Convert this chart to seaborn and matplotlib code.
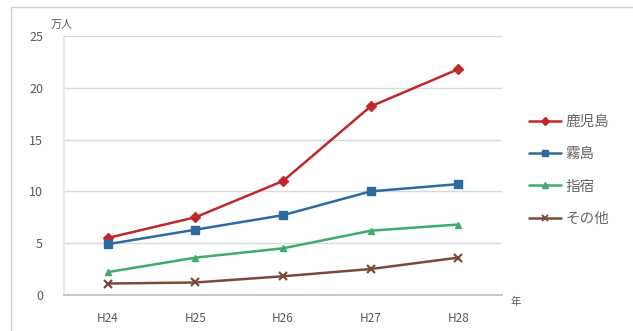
import matplotlib
matplotlib.use("Agg")
import matplotlib.pyplot as plt
import seaborn as sns
import pandas as pd
from matplotlib.lines import Line2D

years = ["H24", "H25", "H26", "H27", "H28"]
series_names = ["鹿児島", "霧島", "指宿", "その他"]
kagoshima = [5.5, 7.5, 11.0, 18.2, 21.8]
kirishima = [4.9, 6.3, 7.7, 10.0, 10.7]
ibusuki = [2.2, 3.6, 4.5, 6.2, 6.8]
sonota = [1.1, 1.2, 1.8, 2.5, 3.6]
y_ticks = [0, 5, 10, 15, 20, 25]

values = [kagoshima, kirishima, ibusuki, sonota]
rows = []
for name, vals in zip(series_names, values):
    for yr, v in zip(years, vals):
        rows.append({"年": yr, "値": v, "系列": name})
df = pd.DataFrame(rows)

sns.set_theme(style="white")
plt.rcParams['font.family'] = ['Noto Sans CJK JP', 'DejaVu Sans']

colors = {"鹿児島": "#c0272d", "霧島": "#2c6aa0", "指宿": "#3cab6c", "その他": "#7a4b3a"}
markers = {"鹿児島": "D", "霧島": "s", "指宿": "^", "その他": "x"}
msizes = {"鹿児島": 5, "霧島": 6, "指宿": 5, "その他": 6}

fig = plt.figure(figsize=(6.33, 3.31), dpi=100)
fig.patch.set_facecolor("white")
ax = fig.add_axes([0.101, 0.109, 0.692, 0.782])

for n in series_names:
    sub = df[df["系列"] == n]
    sns.lineplot(data=sub, x="年", y="値", color=colors[n], marker=markers[n],
                 markersize=msizes[n], markeredgecolor=colors[n],
                 markerfacecolor=colors[n],
                 markeredgewidth=1.6 if markers[n] == "x" else 1.0,
                 linewidth=1.8, ax=ax, legend=False)

ax.set_xlim(-0.5, 4.5)
ax.set_ylim(0, 25)
ax.set_yticks(y_ticks)
ax.set_xticks(range(len(years)))
ax.set_xticklabels(years)
ax.yaxis.grid(True, color="#d9d9d9", linewidth=1.0)
ax.set_axisbelow(True)
for s in ["top", "right"]:
    ax.spines[s].set_visible(False)
ax.spines["left"].set_color("#e6e6e6")
ax.spines["bottom"].set_color("#bfbfbf")
ax.tick_params(axis="y", colors="#595959", labelsize=9, length=0, pad=15)
ax.tick_params(axis="x", colors="#595959", labelsize=8.5, length=0, pad=12)
ax.set_xlabel("")
ax.set_ylabel("")

# minor ticks at category boundaries
ax.set_xticks([i - 0.5 for i in range(len(years) + 1)], minor=True)
ax.tick_params(axis="x", which="minor", length=4, color="#bfbfbf", direction="out")

fig.text(0.08, 0.915, "万人", fontsize=8, color="#595959")
fig.text(0.806, 0.08, "年", fontsize=7.5, color="#595959")

handles = [Line2D([0], [0], color=colors[n], marker=markers[n], markersize=msizes[n] - 1,
                  markeredgewidth=1.4 if markers[n] == "x" else 1.0,
                  linewidth=1.8) for n in series_names]
leg = fig.legend(handles, series_names, loc="center left", bbox_to_anchor=(0.815, 0.485),
                 frameon=False, fontsize=10.5, handlelength=2.2, handletextpad=0.3,
                 labelspacing=1.25, labelcolor="#666666")

border = plt.Rectangle((11 / 633, -0.05), 1.1, 1.05 - 7 / 331, transform=fig.transFigure,
                       fill=False, edgecolor="#d0d0d0", linewidth=1.0)
fig.patches.append(border)

fig.savefig("out.png", dpi=100)
